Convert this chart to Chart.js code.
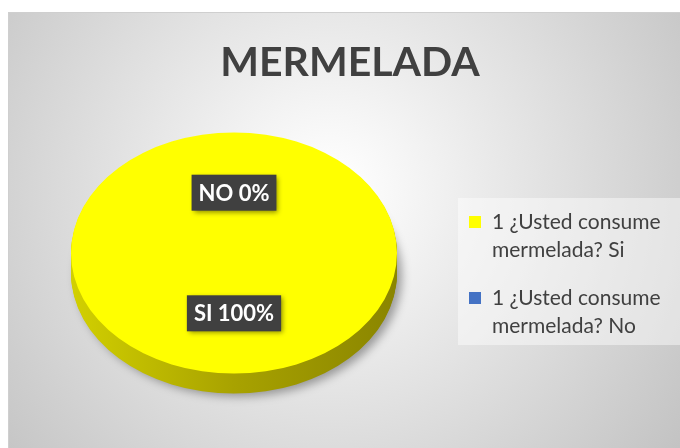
<!DOCTYPE html>
<html>
<head>
<meta charset="utf-8">
<script src="https://cdn.jsdelivr.net/npm/chart.js@4.4.1/dist/chart.umd.min.js"></script>
<style>
    html, body { margin: 0; padding: 0; background: #fff; }
    #wrap { width: 680px; height: 448px; }
</style>
</head>
<body>
<div id="wrap"><canvas id="pieChart" width="680" height="448"></canvas></div>
<script>
const chartTitle = 'MERMELADA';
const categories = ['1 ¿Usted consume mermelada? Si', '1 ¿Usted consume mermelada? No'];
const shortNames = ['SI', 'NO'];
const values = [100, 0];
const sliceColors = ['#ffff00', '#4472c4'];
const sideColors = [['#d2d000', '#a8a200', '#8a8500'], ['#3a63ad', '#2f528f', '#243f6e']];

const FONT = 'Lato, "Open Sans", sans-serif';
const TILT = 0.74;   // vertical squash of the pie
const DEPTH = 20;    // thickness of the pie side

function squash(ctx, cx, cy, dy) {
    ctx.translate(cx, cy + dy);
    ctx.scale(1, TILT);
    ctx.translate(-cx, -cy);
}

const pie3d = {
    id: 'pie3d',
    beforeDraw(chart) {
        const ctx = chart.ctx;
        ctx.save();
        ctx.fillStyle = '#fff';
        ctx.fillRect(0, 0, chart.width, chart.height);
        const g = ctx.createRadialGradient(330, 190, 10, 330, 190, 440);
        g.addColorStop(0, '#ffffff');
        g.addColorStop(1, '#c2c2c2');
        ctx.fillStyle = g;
        ctx.fillRect(8, 12, chart.width - 8, chart.height - 12);
        ctx.strokeStyle = '#cfcfcf';
        ctx.lineWidth = 1;
        ctx.strokeRect(8.5, 12.5, chart.width, chart.height);
        ctx.restore();
    },
    beforeDatasetsDraw(chart) {
        const ctx = chart.ctx;
        const meta = chart.getDatasetMeta(0);
        meta.data.forEach((arc, i) => {
            const r = arc.outerRadius;
            const sg = ctx.createLinearGradient(arc.x - r, 0, arc.x + r, 0);
            sg.addColorStop(0, sideColors[i][0]);
            sg.addColorStop(0.5, sideColors[i][1]);
            sg.addColorStop(1, sideColors[i][2]);
            const orig = arc.options.backgroundColor;
            arc.options.backgroundColor = sg;
            for (let dy = DEPTH; dy >= 1; dy--) {
                ctx.save();
                if (dy === DEPTH) {
                    ctx.shadowColor = 'rgba(0,0,0,0.35)';
                    ctx.shadowBlur = 10;
                    ctx.shadowOffsetX = 5;
                    ctx.shadowOffsetY = 3;
                }
                squash(ctx, arc.x, arc.y, dy);
                arc.draw(ctx);
                ctx.restore();
            }
            arc.options.backgroundColor = orig;
        });
        const a = meta.data[0];
        ctx.save();
        squash(ctx, a.x, a.y, 0);
    },
    afterDatasetsDraw(chart) {
        const ctx = chart.ctx;
        ctx.restore();
        const meta = chart.getDatasetMeta(0);
        const total = values.reduce((s, v) => s + v, 0);
        ctx.save();
        ctx.font = 'bold 22px ' + FONT;
        ctx.textAlign = 'center';
        ctx.textBaseline = 'middle';
        meta.data.forEach((arc, i) => {
            const p = arc.tooltipPosition(false);
            const x = p.x;
            const y = arc.y + (p.y - arc.y) * TILT;
            const txt = shortNames[i] + ' ' + Math.round(values[i] / total * 100) + '%';
            const w = ctx.measureText(txt).width + 14;
            const h = 36;
            ctx.save();
            ctx.shadowColor = 'rgba(0,0,0,0.45)';
            ctx.shadowBlur = 5;
            ctx.shadowOffsetX = 2;
            ctx.shadowOffsetY = 2;
            ctx.fillStyle = '#404040';
            ctx.fillRect(x - w / 2, y - h / 2, w, h);
            ctx.restore();
            ctx.fillStyle = '#ffffff';
            ctx.fillText(txt, x, y + 1);
        });
        ctx.restore();
    },
    afterDraw(chart) {
        const ctx = chart.ctx;
        ctx.save();
        // title
        ctx.fillStyle = '#404040';
        ctx.font = 'bold 41px ' + FONT;
        ctx.textAlign = 'center';
        ctx.textBaseline = 'middle';
        ctx.fillText(chartTitle, 350, 63);

        // legend
        ctx.fillStyle = 'rgba(255,255,255,0.45)';
        ctx.fillRect(458, 198, 222, 147);
        ctx.font = '21px ' + FONT;
        ctx.textAlign = 'left';
        let y = 222;
        categories.forEach((lab, i) => {
            ctx.fillStyle = sliceColors[i];
            ctx.fillRect(469, y - 6, 12, 12);
            const words = lab.split(' ');
            const lines = [];
            let cur = '';
            words.forEach(wd => {
                const test = cur ? cur + ' ' + wd : wd;
                if (ctx.measureText(test).width > 184 && cur) {
                    lines.push(cur);
                    cur = wd;
                } else {
                    cur = test;
                }
            });
            lines.push(cur);
            ctx.fillStyle = '#404040';
            lines.forEach((ln, k) => ctx.fillText(ln, 492, y + k * 28));
            y += 76;
        });
        ctx.restore();
    }
};

new Chart(document.getElementById('pieChart').getContext('2d'), {
    type: 'pie',
    data: {
        labels: categories,
        datasets: [{
            data: values,
            backgroundColor: sliceColors,
            borderWidth: 0,
            hoverOffset: 0
        }]
    },
    options: {
        responsive: false,
        animation: false,
        layout: {
            padding: { left: 71, right: 283, top: 83, bottom: 25 }
        },
        plugins: {
            legend: { display: false },
            title: { display: false },
            tooltip: { enabled: false }
        }
    },
    plugins: [pie3d]
});
</script>
</body>
</html>
